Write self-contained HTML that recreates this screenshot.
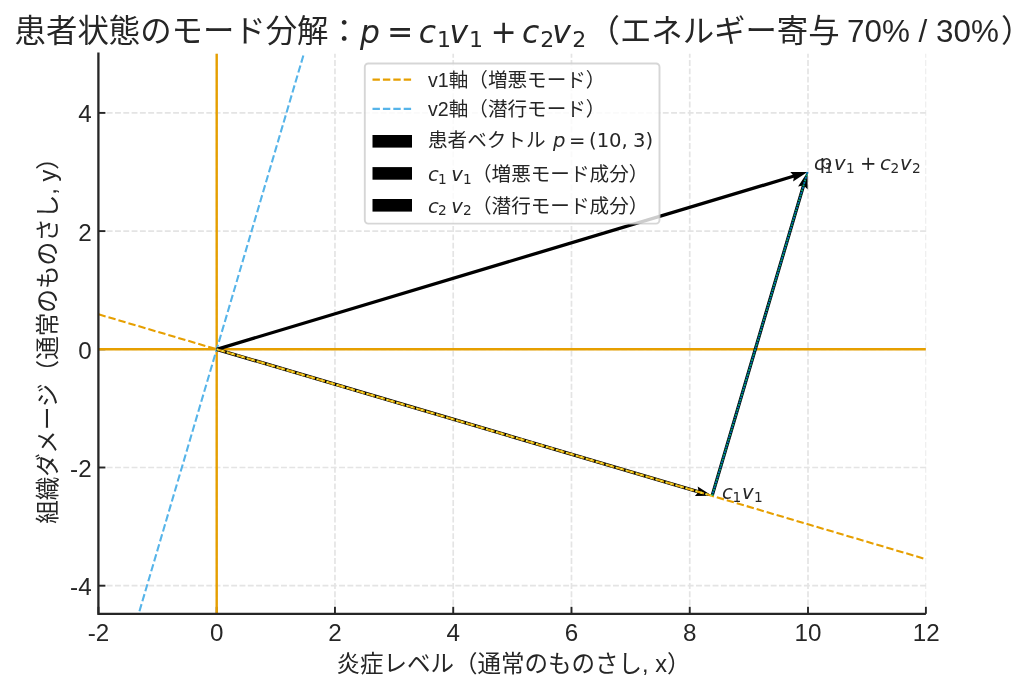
<!DOCTYPE html>
<html lang="ja"><head><meta charset="utf-8"><title>患者状態のモード分解</title>
<style>html,body{margin:0;padding:0;background:#fff;overflow:hidden}svg{display:block}text{font-family:"Liberation Sans", "Noto Sans CJK JP", sans-serif;fill:#262626}.m{font-family:"DejaVu Sans", "Liberation Sans", sans-serif;font-style:italic}.mr{font-family:"DejaVu Sans", "Liberation Sans", sans-serif;font-style:normal}</style></head><body>
<svg width="1024" height="692" viewBox="0 0 1024 692">
<rect width="1024" height="692" fill="#fff"/>
<clipPath id="g"><rect x="98.4" y="53.5" width="827.8" height="560.3"/></clipPath>
<g stroke="#e4e4e4" stroke-width="1.7" stroke-dasharray="5.9 2.4" fill="none" clip-path="url(#g)">
<line x1="216.70" y1="613.8" x2="216.70" y2="53.5"/>
<line x1="334.96" y1="613.8" x2="334.96" y2="53.5"/>
<line x1="453.22" y1="613.8" x2="453.22" y2="53.5"/>
<line x1="571.48" y1="613.8" x2="571.48" y2="53.5"/>
<line x1="689.74" y1="613.8" x2="689.74" y2="53.5"/>
<line x1="808.00" y1="613.8" x2="808.00" y2="53.5"/>
<line x1="926.26" y1="613.8" x2="926.26" y2="53.5"/>
<line x1="98.4" y1="585.7" x2="925.9" y2="585.7"/>
<line x1="98.4" y1="467.5" x2="925.9" y2="467.5"/>
<line x1="98.4" y1="349.3" x2="925.9" y2="349.3"/>
<line x1="98.4" y1="231.1" x2="925.9" y2="231.1"/>
<line x1="98.4" y1="112.9" x2="925.9" y2="112.9"/>
</g>
<g stroke="#262626" stroke-width="1.9" fill="none">
<line x1="98.44" y1="613.8" x2="98.44" y2="606.8"/>
<line x1="216.70" y1="613.8" x2="216.70" y2="606.8"/>
<line x1="334.96" y1="613.8" x2="334.96" y2="606.8"/>
<line x1="453.22" y1="613.8" x2="453.22" y2="606.8"/>
<line x1="571.48" y1="613.8" x2="571.48" y2="606.8"/>
<line x1="689.74" y1="613.8" x2="689.74" y2="606.8"/>
<line x1="808.00" y1="613.8" x2="808.00" y2="606.8"/>
<line x1="925.90" y1="613.8" x2="925.90" y2="606.8"/>
<line x1="98.4" y1="585.7" x2="105.4" y2="585.7"/>
<line x1="98.4" y1="467.5" x2="105.4" y2="467.5"/>
<line x1="98.4" y1="349.3" x2="105.4" y2="349.3"/>
<line x1="98.4" y1="231.1" x2="105.4" y2="231.1"/>
<line x1="98.4" y1="112.9" x2="105.4" y2="112.9"/>
</g>
<clipPath id="c"><rect x="98.4" y="53.5" width="827.5" height="560.3"/></clipPath>
<g clip-path="url(#c)">
<line x1="98.4" y1="349.3" x2="925.9" y2="349.3" stroke="#E69F00" stroke-width="2.4"/>
<line x1="216.7" y1="53.5" x2="216.7" y2="613.8" stroke="#E69F00" stroke-width="2.4"/>
<line x1="136.5" y1="621.2" x2="305.6" y2="47.9" stroke="#56B4E9" stroke-width="2.1" stroke-dasharray="7.4 3.0"/>
<polygon points="216.23,347.72 792.80,174.69 790.27,172.00 807.50,172.00 793.12,181.48 793.75,177.85 217.17,350.88" fill="#000"/>
<polygon points="217.17,347.72 698.31,490.07 697.67,486.44 712.09,495.87 694.86,495.93 697.38,493.24 216.23,350.88" fill="#000"/>
<polygon points="710.50,495.40 801.72,185.78 798.09,186.43 807.50,172.00 807.59,189.23 804.89,186.71 713.67,496.33" fill="#000"/>
<line x1="98.5" y1="314.3" x2="925.7" y2="559.1" stroke="#E69F00" stroke-width="2.1" stroke-dasharray="7.4 3.0"/>
<line x1="216.7" y1="349.3" x2="712.1" y2="495.9" stroke="#F0E442" stroke-width="2" stroke-dasharray="2 3.2"/>
<line x1="807.5" y1="172.0" x2="712.1" y2="495.9" stroke="#0072B2" stroke-width="2" stroke-dasharray="2 3.2"/>
<line x1="807.5" y1="172.0" x2="712.1" y2="495.9" stroke="#009E73" stroke-width="2" stroke-dasharray="2 3.2" stroke-dashoffset="2.6"/>
</g>
<path d="M98.40 52.40 V613.80 H925.90" stroke="#262626" stroke-width="2.3" fill="none" stroke-linejoin="miter"/>
<g font-size="24.2px" text-anchor="middle">
<text x="98.4" y="640.5">-2</text>
<text x="216.7" y="640.5">0</text>
<text x="335.0" y="640.5">2</text>
<text x="453.2" y="640.5">4</text>
<text x="571.5" y="640.5">6</text>
<text x="689.7" y="640.5">8</text>
<text x="808.0" y="640.5">10</text>
<text x="926.3" y="640.5">12</text>
</g>
<g font-size="24.2px" text-anchor="end">
<text x="91.6" y="595.1">-4</text>
<text x="91.6" y="476.9">-2</text>
<text x="91.6" y="358.7">0</text>
<text x="91.6" y="240.5">2</text>
<text x="91.6" y="122.3">4</text>
</g>
<text x="513.5" y="672" font-size="23.5px" text-anchor="middle">炎症レベル（通常のものさし, x）</text>
<text transform="translate(55.5,335) rotate(-90)" font-size="23.6px" text-anchor="middle">組織ダメージ（通常のものさし, y）</text>
<text x="14.6" y="42.0" font-size="31.4px">患者状態のモード分解：<tspan x="360.0" y="43.2" font-size="31.4px" class="m">p</tspan><tspan x="387.0" y="43.2" font-size="31.4px" class="mr">=</tspan><tspan x="418.7" y="43.2" font-size="31.4px" class="m">c</tspan><tspan x="437.0" y="47.0" font-size="22.0px" class="mr">1</tspan><tspan x="449.5" y="43.2" font-size="31.4px" class="m">v</tspan><tspan x="469.0" y="47.0" font-size="22.0px" class="mr">1</tspan><tspan x="490.6" y="43.2" font-size="31.4px" class="mr">+</tspan><tspan x="522.0" y="43.2" font-size="31.4px" class="m">c</tspan><tspan x="540.2" y="47.0" font-size="22.0px" class="mr">2</tspan><tspan x="552.2" y="43.2" font-size="31.4px" class="m">v</tspan><tspan x="572.2" y="47.0" font-size="22.0px" class="mr">2</tspan><tspan x="588.5" y="42.0" font-size="31.4px">（エネルギー寄与</tspan><tspan x="847.0" y="42.0" font-size="31.4px">70% / 30%</tspan><tspan x="1001.0" y="42.0" font-size="31.4px">）</tspan></text>
<text font-size="19.6px"><tspan x="722.0" y="498.8" font-size="19.6px" class="m">c</tspan><tspan x="732.5" y="501.6" font-size="13.7px" class="mr">1</tspan><tspan x="742.0" y="498.8" font-size="19.6px" class="m">v</tspan><tspan x="754.0" y="501.6" font-size="13.7px" class="mr">1</tspan></text>
<text font-size="19.6px"><tspan x="819.8" y="168.6" font-size="19.6px" class="mr">p</tspan></text>
<text font-size="19.6px"><tspan x="814.1" y="170.3" font-size="19.6px" class="m">c</tspan><tspan x="824.6" y="173.1" font-size="13.7px" class="mr">1</tspan><tspan x="834.1" y="170.3" font-size="19.6px" class="m">v</tspan><tspan x="846.1" y="173.1" font-size="13.7px" class="mr">1</tspan><tspan x="859.9" y="170.3" font-size="19.6px" class="mr">+</tspan><tspan x="880.1" y="170.3" font-size="19.6px" class="m">c</tspan><tspan x="890.6" y="173.1" font-size="13.7px" class="mr">2</tspan><tspan x="900.1" y="170.3" font-size="19.6px" class="m">v</tspan><tspan x="912.1" y="173.1" font-size="13.7px" class="mr">2</tspan></text>
<rect x="364.8" y="63.5" width="294.7" height="160.1" rx="3.5" ry="3.5" fill="#fff" fill-opacity="0.8" stroke="#cccccc" stroke-opacity="0.8" stroke-width="1.9"/>
<line x1="372.5" y1="79.7" x2="412" y2="79.7" stroke="#E69F00" stroke-width="2.2" stroke-dasharray="7.4 3.0"/>
<line x1="372.5" y1="108.8" x2="412" y2="108.8" stroke="#56B4E9" stroke-width="2.2" stroke-dasharray="7.4 3.0"/>
<rect x="372.5" y="135.0" width="39.5" height="12.6" fill="#000"/>
<rect x="372.5" y="167.1" width="39.5" height="12.6" fill="#000"/>
<rect x="372.5" y="199.0" width="39.5" height="12.6" fill="#000"/>
<text font-size="19.6px"><tspan x="428.0" y="87.0" font-size="19.6px">v1軸（増悪モード）</tspan></text>
<text font-size="19.6px"><tspan x="428.0" y="116.0" font-size="19.6px">v2軸（潜行モード）</tspan></text>
<text font-size="19.6px"><tspan x="428.0" y="147.4" font-size="19.6px">患者ベクトル</tspan><tspan x="553.0" y="147.4" font-size="19.6px" class="m">p</tspan><tspan x="569.0" y="147.4" font-size="19.6px" class="mr">=</tspan><tspan x="589.0" y="147.4" font-size="19.6px" class="mr">(10,</tspan><tspan x="633.0" y="147.4" font-size="19.6px" class="mr">3)</tspan></text>
<text font-size="19.6px"><tspan x="428.0" y="180.7" font-size="19.6px" class="m">c</tspan><tspan x="438.0" y="183.5" font-size="13.7px" class="mr">1</tspan><tspan x="451.2" y="180.7" font-size="19.6px" class="m">v</tspan><tspan x="463.0" y="183.5" font-size="13.7px" class="mr">1</tspan><tspan x="472.0" y="180.7" font-size="19.6px">（増悪モード成分）</tspan></text>
<text font-size="19.6px"><tspan x="428.0" y="212.5" font-size="19.6px" class="m">c</tspan><tspan x="438.0" y="215.3" font-size="13.7px" class="mr">2</tspan><tspan x="451.2" y="212.5" font-size="19.6px" class="m">v</tspan><tspan x="463.0" y="215.3" font-size="13.7px" class="mr">2</tspan><tspan x="472.0" y="212.5" font-size="19.6px">（潜行モード成分）</tspan></text>
</svg></body></html>
